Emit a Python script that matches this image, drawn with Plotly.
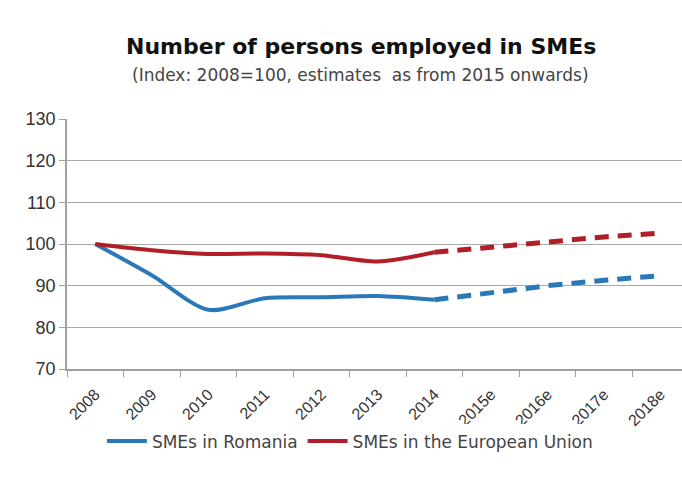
import plotly.graph_objects as go

years = ["2008", "2009", "2010", "2011", "2012", "2013", "2014",
         "2015e", "2016e", "2017e", "2018e"]
romania = [100, 92.5, 84.2, 87.0, 87.2, 87.5, 86.6, 88.4, 90.0, 91.3, 92.4]
eu = [100, 98.5, 97.6, 97.7, 97.3, 95.8, 98.0, 99.3, 100.6, 101.7, 102.6]
n_actual = 7  # 2008..2014 are actual, rest estimates

title = "Number of persons employed in SMEs"
subtitle = "(Index: 2008=100, estimates  as from 2015 onwards)"
blue = "#2b78b8"
red = "#b01f28"
FONT = "Liberation Sans, Arial, sans-serif"
WIDE = "DejaVu Sans, sans-serif"

fig = go.Figure()
for name, vals, col in [("SMEs in Romania", romania, blue),
                        ("SMEs in the European Union", eu, red)]:
    fig.add_trace(go.Scatter(x=years[:n_actual], y=vals[:n_actual], mode="lines",
                             name=name, line=dict(color=col, width=4, shape="spline", smoothing=0.8)))
    fig.add_trace(go.Scatter(x=years[n_actual - 1:], y=vals[n_actual - 1:], mode="lines",
                             showlegend=False, hoverinfo="skip",
                             line=dict(color=col, width=5, dash="14px,9px")))

fig.update_layout(
    width=682, height=489,
    margin=dict(l=67, r=0, t=119, b=120),
    plot_bgcolor="white", paper_bgcolor="white",
    font=dict(family=FONT, color="#333333"),
    showlegend=True,
    legend=dict(orientation="h", x=0.46, xanchor="center", y=-0.29, yanchor="middle",
                font=dict(size=17, color="#444444", family=WIDE), itemwidth=40,
                traceorder="normal"),
    annotations=[
        dict(text="<b>" + title + "</b>", xref="paper", yref="paper", x=0.478, y=1.0,
             yshift=87, showarrow=False, font=dict(size=22, color="#111111", family=WIDE)),
        dict(text=subtitle, xref="paper", yref="paper", x=0.478, y=1.0, yshift=56,
             showarrow=False, font=dict(size=17, color="#444444", family=WIDE)),
    ],
)
fig.update_xaxes(
    type="category", categoryorder="array", categoryarray=years,
    range=[-0.5, 10.38], showgrid=False, showline=True, linecolor="#a0a0a0", linewidth=1.5,
    ticks="outside", tickson="boundaries", ticklen=6, tickcolor="#a0a0a0",
    tickangle=-45, tickfont=dict(size=16, color="#333333"), ticklabelstandoff=8,
)
fig.update_yaxes(
    range=[70, 130], dtick=10, showgrid=True, gridcolor="#a8a8a8", gridwidth=1.2,
    showline=True, linecolor="#a0a0a0", linewidth=1.5, ticks="outside", ticklen=6,
    tickcolor="#a0a0a0", zeroline=False, tickfont=dict(size=18, color="#333333"),
)
fig.write_html("out.html")
